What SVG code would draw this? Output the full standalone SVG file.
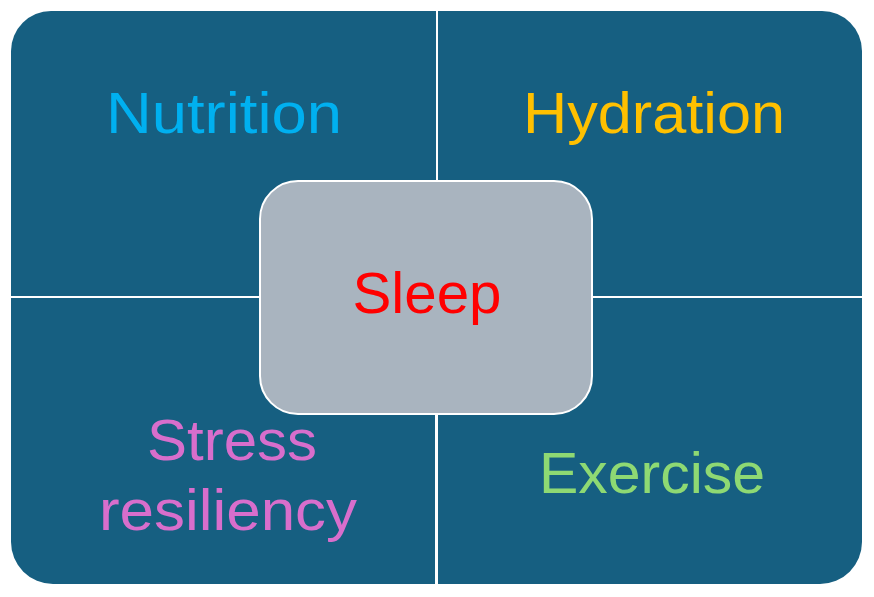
<svg xmlns="http://www.w3.org/2000/svg" width="874" height="597" viewBox="0 0 874 597">
  <style>
    .quad { fill: #165F81; }
    .lbl { font-family: "Liberation Sans", Arial, sans-serif; font-size: 58px; text-anchor: middle; }
  </style>
  <rect width="874" height="597" fill="#FFFFFF"/>
  <g id="nutrition">
    <path class="quad" d="M11,51 A40,40 0 0 1 51,11 L436,11 L436,296 L11,296 Z"/>
    <text class="lbl" x="224" y="133" fill="#00B0F0" textLength="236" lengthAdjust="spacingAndGlyphs">Nutrition</text>
  </g>
  <g id="hydration">
    <path class="quad" d="M438,11 L822,11 A40,40 0 0 1 862,51 L862,296 L438,296 Z"/>
    <text class="lbl" x="654" y="133" fill="#FFC000" textLength="262" lengthAdjust="spacingAndGlyphs">Hydration</text>
  </g>
  <g id="stress-resiliency">
    <path class="quad" d="M11,298 L435,298 L435,584 L53,584 A42,42 0 0 1 11,542 Z"/>
    <text class="lbl" x="232" y="460" fill="#D86ECC" textLength="170" lengthAdjust="spacingAndGlyphs">Stress</text>
    <text class="lbl" x="228" y="530" fill="#D86ECC" textLength="258" lengthAdjust="spacingAndGlyphs">resiliency</text>
  </g>
  <g id="exercise">
    <path class="quad" d="M438,298 L862,298 L862,542 A42,42 0 0 1 820,584 L438,584 Z"/>
    <text class="lbl" x="652" y="493" fill="#8ED973" textLength="226" lengthAdjust="spacingAndGlyphs">Exercise</text>
  </g>
  <g id="sleep">
    <rect x="260" y="181" width="332" height="233" rx="38" ry="38" fill="#A9B4BF" stroke="#FFFFFF" stroke-width="2"/>
    <text class="lbl" x="427" y="313" fill="#FF0000" textLength="149" lengthAdjust="spacingAndGlyphs">Sleep</text>
  </g>
</svg>
